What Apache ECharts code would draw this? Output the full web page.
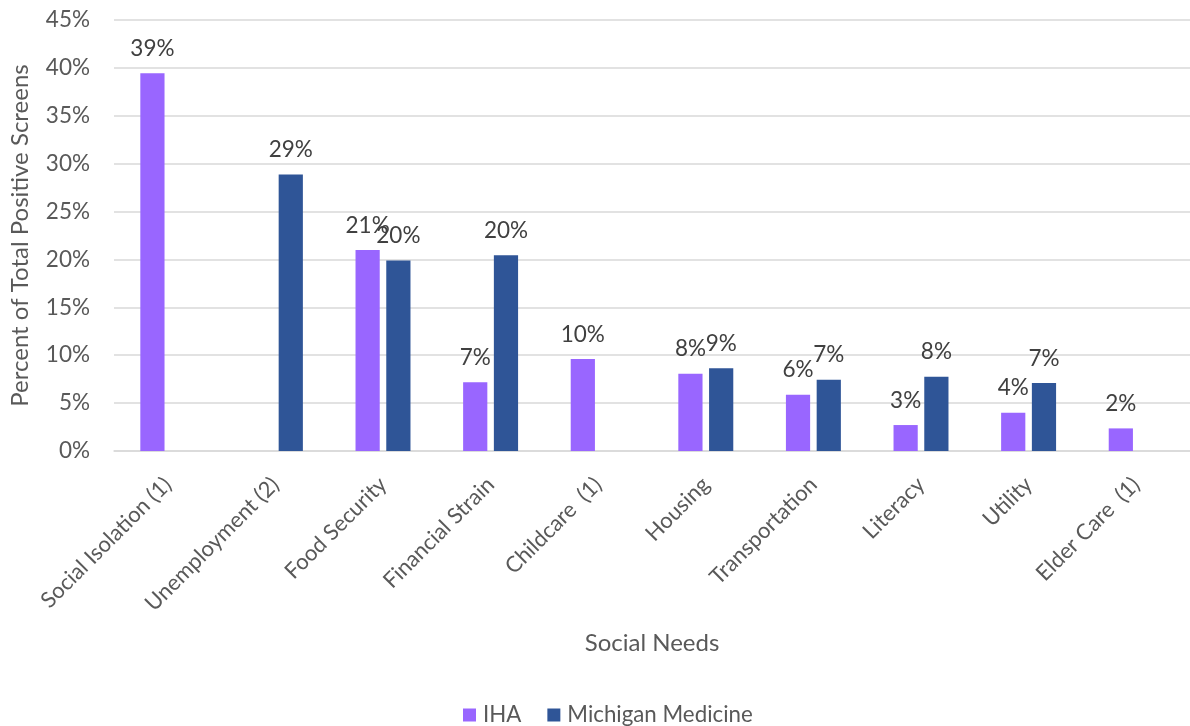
<!DOCTYPE html>
<html>
<head>
<meta charset="utf-8">
<script src="https://cdn.jsdelivr.net/npm/echarts@6/dist/echarts.min.js"></script>
<style>
html,body{margin:0;padding:0;background:#fff;}
#chart{width:1190px;height:726px;}
</style>
</head>
<body>
<div id="chart"></div>
<script>
const categories = ['Social Isolation (1)', 'Unemployment (2)', 'Food Security', 'Financial Strain', 'Childcare  (1)', 'Housing', 'Transportation', 'Literacy', 'Utility', 'Elder Care  (1)'];
const ihaValues = [39.45, null, 20.98, 7.17, 9.6, 8.07, 5.88, 2.71, 4.0, 2.36];
const mmValues = [null, 28.87, 19.88, 20.45, null, 8.63, 7.45, 7.76, 7.1, null];
const yTicks = [0, 5, 10, 15, 20, 25, 30, 35, 40, 45];

const FONT = 'Lato, "Open Sans", sans-serif';
const chart = echarts.init(document.getElementById('chart'));
const labelCfg = {
  show: true,
  position: 'top',
  distance: 13,
  fontSize: 22.5,
  fontFamily: FONT,
  color: '#404040',
  formatter: p => Math.round(p.value) + '%'
};
chart.setOption({
  animation: false,
  textStyle: {fontFamily: FONT},
  grid: {left: 107, right: -8, top: 20, bottom: 275, containLabel: false},
  legend: {
    left: 458,
    top: 699,
    itemWidth: 13,
    itemHeight: 13,
    itemGap: 26,
    icon: 'rect',
    textStyle: {fontSize: 22.3, color: '#595959', fontFamily: FONT, padding: [0, 0, 0, 2]},
    data: ['IHA', 'Michigan Medicine']
  },
  xAxis: {
    type: 'category',
    data: categories,
    name: 'Social Needs',
    nameLocation: 'middle',
    nameGap: 180,
    nameTextStyle: {fontSize: 24, color: '#595959', fontFamily: FONT},
    axisLine: {lineStyle: {color: '#d9d9d9', width: 1.5}},
    axisTick: {show: false},
    axisLabel: {rotate: 45, fontSize: 22, color: '#595959', margin: 30, fontFamily: FONT, interval: 0}
  },
  yAxis: {
    type: 'value',
    min: yTicks[0],
    max: yTicks[yTicks.length - 1],
    interval: 5,
    name: 'Percent of Total Positive Screens',
    nameLocation: 'middle',
    nameGap: 82,
    nameTextStyle: {fontSize: 24, color: '#595959', fontFamily: FONT},
    axisLine: {show: false},
    axisTick: {show: false},
    axisLabel: {fontSize: 22.5, color: '#595959', margin: 24, fontFamily: FONT, formatter: '{value}%'},
    splitLine: {lineStyle: {color: '#d9d9d9', width: 1.5}}
  },
  series: [
    {
      name: 'IHA',
      type: 'bar',
      data: ihaValues,
      barWidth: '22.5%',
      barGap: '27%',
      itemStyle: {color: '#9966ff'},
      label: labelCfg
    },
    {
      name: 'Michigan Medicine',
      type: 'bar',
      data: mmValues,
      barWidth: '22.5%',
      barGap: '27%',
      itemStyle: {color: '#2f5597'},
      label: labelCfg
    }
  ]
});
</script>
</body>
</html>
